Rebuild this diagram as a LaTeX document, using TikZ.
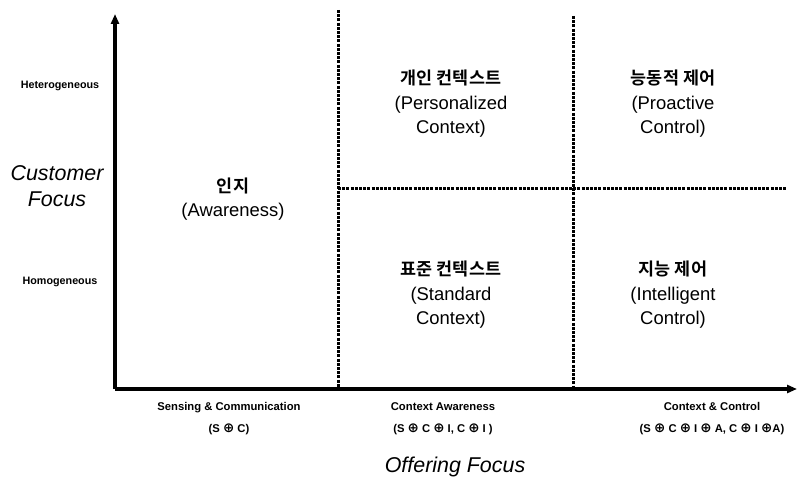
\documentclass[tikz,border=0pt]{standalone}
\usepackage{fontspec}
\setmainfont{Liberation Sans}
\newfontfamily\kr{Noto Sans CJK KR}[BoldFont={Noto Sans CJK KR Bold}]
\newfontfamily\sym{DejaVu Sans}
\usetikzlibrary{arrows.meta}
\newcommand{\op}{{\sym\fontsize{13.5}{13.5}\selectfont ⊕}}
\tikzset{
  axis/.style={line width=3.4bp,-{Triangle[length=10bp,width=8bp]}},
  divider/.style={line width=3bp,dash pattern=on 3bp off 1.2bp},
  quad/.style={align=center,font=\fontsize{18.5}{24.5}\selectfont,inner sep=0pt},
  tick/.style={align=center,font=\fontsize{11.3}{22}\selectfont\bfseries,inner sep=0pt},
  lvl/.style={font=\fontsize{10.8}{12}\selectfont\bfseries,inner sep=0pt},
  axlabel/.style={align=center,font=\fontsize{21.5}{26}\selectfont\itshape,inner sep=0pt}
}
\begin{document}
\begin{tikzpicture}[x=1bp,y=-1bp]
\useasboundingbox (0,0) rectangle (801,480);
\coordinate (o) at (115,389);
\coordinate (ytop) at (115,14);
\coordinate (xend) at (797,389);
\coordinate (v1t) at (338,10);
\coordinate (v1b) at (338,389);
\coordinate (v2t) at (573,16);
\coordinate (v2b) at (573,389);
\coordinate (hl) at (338,189);
\coordinate (hr) at (786,189);
\draw[divider] (v1t) -- (v1b);
\draw[divider] (v2t) -- (v2b);
\draw[divider] (hl) -- (hr);
\draw[axis] (o) -- (ytop);
\draw[axis] (o) -- (xend);

\node[lvl] (het) at (60,86) {Heterogeneous};
\node[lvl] (hom) at (60,282) {Homogeneous};
\node[axlabel] (cf) at (57,186) {Customer\\Focus};
\node[axlabel] (of) at (455,467) {Offering Focus};

\node[quad] (aw) at (233,199) {{\kr\bfseries\fontsize{17.5}{20}\selectfont 인지}\\(Awareness)};
\node[quad] (pc) at (451,104) {{\kr\bfseries\fontsize{17.5}{20}\selectfont 개인 컨텍스트}\\(Personalized\\Context)};
\node[quad] (pr) at (673,104) {{\kr\bfseries\fontsize{17.5}{20}\selectfont 능동적 제어}\\(Proactive\\Control)};
\node[quad] (sc) at (451,295) {{\kr\bfseries\fontsize{17.5}{20}\selectfont 표준 컨텍스트}\\(Standard\\Context)};
\node[quad] (ic) at (673,295) {{\kr\bfseries\fontsize{17.5}{20}\selectfont 지능 제어}\\(Intelligent\\Control)};

\node[tick] (t1) at (229,419) {Sensing \& Communication\\(S \op{} C)};
\node[tick] (t2) at (443,419) {Context Awareness\\(S \op{} C \op{} I, C \op{} I )};
\node[tick] (t3) at (712,419) {Context \& Control\\(S \op{} C \op{} I \op{} A, C \op{} I \op{}A)};
\end{tikzpicture}
\end{document}
